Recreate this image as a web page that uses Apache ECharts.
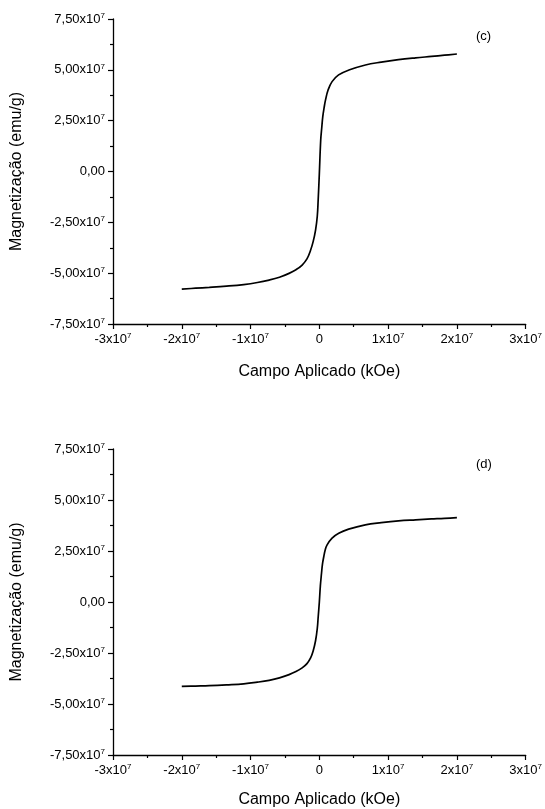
<!DOCTYPE html>
<html>
<head>
<meta charset="utf-8">
<script src="https://cdn.jsdelivr.net/npm/echarts@6/dist/echarts.min.js"></script>
<style>
  html, body { margin: 0; padding: 0; background: #fff; }
  #chart { width: 545px; height: 809px; }
</style>
</head>
<body>
<div id="chart"></div>
<script>
// curva (c)
const fieldC = [-2.00e7, -1.80e7, -1.60e7, -1.35e7, -1.10e7, -0.90e7, -0.73e7, -0.58e7, -0.44e7, -0.34e7,
  -0.25e7, -0.18e7, -0.13e7, -0.09e7, -0.055e7, -0.03e7, -0.017e7, 0, 0.02e7, 0.035e7, 0.05e7, 0.07e7,
  0.09e7, 0.127e7, 0.185e7, 0.28e7, 0.43e7, 0.67e7, 0.90e7, 1.15e7, 1.40e7, 1.63e7, 1.82e7, 2.00e7];
const magC = [-5.78e7, -5.74e7, -5.70e7, -5.64e7, -5.56e7, -5.46e7, -5.34e7, -5.20e7, -5.01e7, -4.83e7,
  -4.60e7, -4.30e7, -3.90e7, -3.45e7, -2.88e7, -2.20e7, -1.40e7, -0.10e7, 1.55e7, 2.15e7, 2.70e7, 3.15e7,
  3.52e7, 4.01e7, 4.42e7, 4.75e7, 4.99e7, 5.24e7, 5.38e7, 5.50e7, 5.59e7, 5.66e7, 5.72e7, 5.78e7];

// curva (d)
const fieldD = [-2.00e7, -1.80e7, -1.60e7, -1.35e7, -1.10e7, -0.90e7, -0.73e7, -0.58e7, -0.44e7, -0.34e7,
  -0.25e7, -0.18e7, -0.127e7, -0.09e7, -0.055e7, -0.03e7, -0.017e7, 0, 0.015e7, 0.032e7, 0.045e7, 0.065e7,
  0.085e7, 0.113e7, 0.185e7, 0.282e7, 0.426e7, 0.668e7, 0.90e7, 1.15e7, 1.40e7, 1.63e7, 1.82e7, 2.00e7];
const magD = [-4.14e7, -4.12e7, -4.10e7, -4.06e7, -4.01e7, -3.93e7, -3.84e7, -3.72e7, -3.56e7, -3.41e7,
  -3.23e7, -3.02e7, -2.74e7, -2.40e7, -1.90e7, -1.30e7, -0.75e7, 0, 0.80e7, 1.42e7, 1.85e7, 2.23e7,
  2.55e7, 2.80e7, 3.13e7, 3.37e7, 3.57e7, 3.78e7, 3.89e7, 3.98e7, 4.03e7, 4.07e7, 4.10e7, 4.14e7];

// rótulos dos eixos (mantissa; "x10" leva expoente 7)
const xTicks = [-3e7, -2e7, -1e7, 0, 1e7, 2e7, 3e7];
const xTickLabels = ['-3x10', '-2x10', '-1x10', '0', '1x10', '2x10', '3x10'];
const yTicks = [-7.5e7, -5e7, -2.5e7, 0, 2.5e7, 5e7, 7.5e7];
const yTickLabels = ['-7,50x10', '-5,00x10', '-2,50x10', '0,00', '2,50x10', '5,00x10', '7,50x10'];
const panelLabels = ['(c)', '(d)'];

const FONT = 'Liberation Sans, Arial, sans-serif';

function tickFormatter(ticks, labels) {
  return function (v) {
    let i = ticks.findIndex(t => Math.abs(t - v) < 1);
    if (i < 0) return '';
    let t = labels[i];
    return t.endsWith('x10') ? '{b|' + t + '}{s|7}' : '{b|' + t + '}';
  };
}

const rich = {
  b: { fontSize: 13, color: '#000', fontFamily: FONT, lineHeight: 15 },
  s: { fontSize: 8, color: '#000', fontFamily: FONT, verticalAlign: 'top', lineHeight: 15 }
};

function xAx(gi, gap) {
  return {
    gridIndex: gi, type: 'value', min: -3e7, max: 3e7, interval: 1e7,
    name: 'Campo Aplicado (kOe)', nameLocation: 'middle', nameGap: gap,
    nameTextStyle: { fontSize: 16, color: '#000', fontFamily: FONT },
    axisLine: { show: true, onZero: false, lineStyle: { color: '#000', width: 1.3 } },
    axisTick: { show: true, inside: false, length: 5, lineStyle: { color: '#000', width: 1.2 } },
    minorTick: { show: true, splitNumber: 2, length: 3, lineStyle: { color: '#000', width: 1.2 } },
    splitLine: { show: false },
    axisLabel: { margin: 8, formatter: tickFormatter(xTicks, xTickLabels), rich: rich }
  };
}

function yAx(gi) {
  return {
    gridIndex: gi, type: 'value', min: -7.5e7, max: 7.5e7, interval: 2.5e7,
    name: 'Magnetização (emu/g)', nameLocation: 'middle', nameGap: 88,
    nameTextStyle: { fontSize: 16, color: '#000', fontFamily: FONT },
    axisLine: { show: true, onZero: false, lineStyle: { color: '#000', width: 1.3 } },
    axisTick: { show: true, inside: false, length: 5, lineStyle: { color: '#000', width: 1.2 } },
    minorTick: { show: true, splitNumber: 2, length: 3, lineStyle: { color: '#000', width: 1.2 } },
    splitLine: { show: false },
    axisLabel: { margin: 8, formatter: tickFormatter(yTicks, yTickLabels), rich: rich }
  };
}

function curve(gi, xs, ys) {
  return {
    type: 'line', xAxisIndex: gi, yAxisIndex: gi,
    data: xs.map((h, i) => [h, ys[i]]),
    showSymbol: false, smooth: 0.4,
    lineStyle: { color: '#000', width: 1.7 }
  };
}

let chart = echarts.init(document.getElementById('chart'));
let option = {
  animation: false,
  backgroundColor: '#fff',
  grid: [
    { left: 113, top: 19, width: 415, height: 305 },
    { left: 113, top: 449, width: 415, height: 306 }
  ],
  xAxis: [xAx(0, 40), xAx(1, 37)],
  yAxis: [yAx(0), yAx(1)],
  series: [curve(0, fieldC, magC), curve(1, fieldD, magD)],
  graphic: [
    { type: 'text', left: 476, top: 30, style: { text: panelLabels[0], fontSize: 13, fill: '#000', fontFamily: FONT } },
    { type: 'text', left: 476, top: 458, style: { text: panelLabels[1], fontSize: 13, fill: '#000', fontFamily: FONT } }
  ]
};
chart.setOption(option);
</script>
</body>
</html>
